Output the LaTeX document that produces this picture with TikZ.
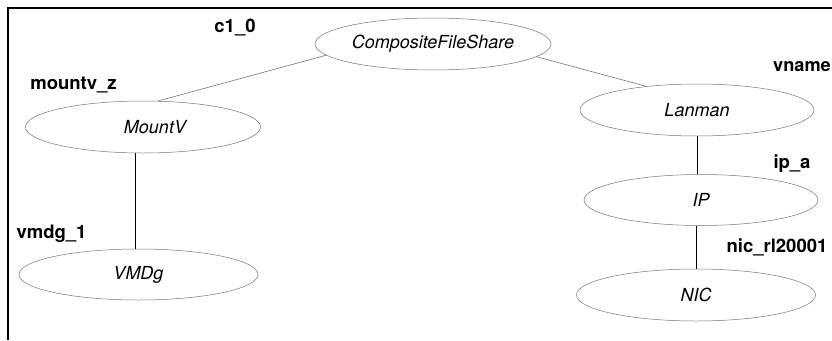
\documentclass[tikz,border=0pt]{standalone}
\usepackage{fontspec}
\setmainfont{TeX Gyre Heros}
\usetikzlibrary{shapes.geometric}
\begin{document}
\begin{tikzpicture}[x=1pt,y=-1pt,
      res/.style={ellipse,draw=black!55,line width=0.5pt,inner sep=0pt,
        minimum width=235pt,minimum height=52pt,
        font=\fontsize{18}{22}\selectfont\itshape},
      lbl/.style={anchor=base,inner sep=0pt,
        font=\fontsize{18.5}{22}\selectfont\bfseries},
      dep/.style={black!55,line width=0.6pt},
      link/.style={black,line width=0.8pt}]
      \useasboundingbox (0,0) rectangle (832,340);
      \draw[line width=1.2pt] (832,8)--(8,8)--(8,340);
      \path (433,44) node[res,minimum width=236pt] (cfs) {CompositeFileShare};
      \path (143,127) node[res] (mountv) {\hspace*{24pt}MountV};
      \path (138.5,274.5) node[res,minimum width=239pt,minimum height=51pt] (vmdg) {VMDg};
      \path (697,110) node[res,minimum width=234pt] (lanman) {Lanman};
      \path (701,200) node[res,minimum width=234pt,minimum height=51pt] (ip) {IP};
      \path (696,295) node[res,minimum width=239pt] (nic) {NIC};
      \path (235,32) node[lbl] (c1) {c1\_0};
      \path (73.5,89) node[lbl] (mountvz) {mountv\_z};
      \path (51.5,238) node[lbl] (vmdg1) {vmdg\_1};
      \path (831,71) node[lbl,anchor=base east,font=\fontsize{18.2}{22}\selectfont\bfseries] (vname) {vname};
      \path (792,168) node[lbl] (ipa) {ip\_a};
      \path (777,252) node[lbl] (nicrl) {nic\_rl20001};
      \draw[dep] (cfs.186)--(mountv.60);
      \draw[dep] (cfs.-7)--(lanman.155);
      \draw[link] (vmdg.97)--(vmdg.97 |- mountv.south);
      \draw[link] (lanman.south)--(lanman.south |- ip.north);
      \draw[link] (nic.north)--(nic.north |- ip.south);
     \end{tikzpicture}
\end{document}
